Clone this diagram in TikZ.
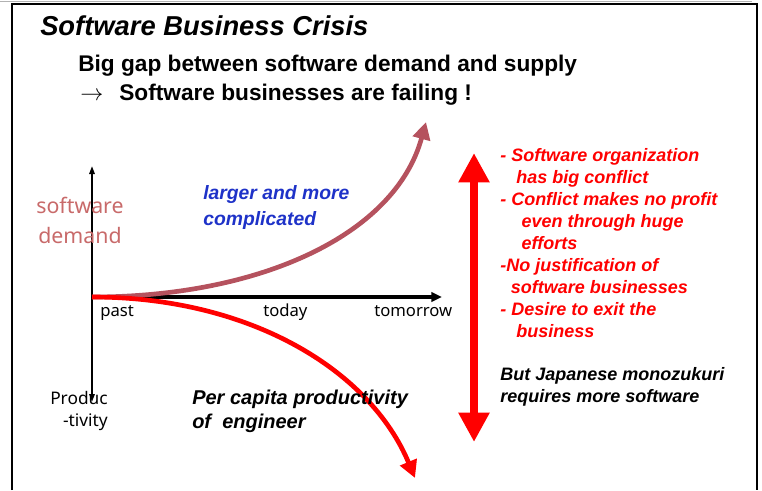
\documentclass[tikz,border=0pt]{standalone}
\usepackage{fontspec}
\setmainfont{Liberation Sans}
\newfontfamily\lblfont{Noto Sans}
\usetikzlibrary{arrows.meta}

\definecolor{demandred}{RGB}{181,82,94}
\definecolor{demandtxt}{RGB}{200,106,106}
\definecolor{cplxblue}{RGB}{30,50,200}

\tikzset{
  axislbl/.style={font=\lblfont\fontsize{12.5}{15}\selectfont, anchor=base west, inner sep=0pt},
  head/.style={font=\bfseries\fontsize{17}{20}\selectfont, anchor=base west, inner sep=0pt},
  note/.style={font=\bfseries\itshape\fontsize{13.5}{16.5}\selectfont, align=left, anchor=north west, inner sep=0pt},
  curve/.style={line width=3.5pt, -{Triangle[length=13pt,width=13pt]}}
}

\begin{document}
\begin{tikzpicture}[x=0.75pt,y=-0.75pt]
\useasboundingbox (0,0) rectangle (762,490);

% frame
\draw[gray!60] (0,1) -- (752,1);
\draw[line width=1.2pt] (12,490) -- (12,4) -- (757,4) -- (757,490);

\node[anchor=base west, inner sep=0pt, font=\bfseries\itshape\fontsize{20.5}{24}\selectfont] (title) at (40,35) {Software Business Crisis};
\node[head] (gap) at (78,71) {Big gap between software demand and supply};
\node[head] (fail) at (80,100) {$\rightarrow$\hspace{12pt}Software businesses are failing !};

% axes
\coordinate (O) at (92,297);
\coordinate (up) at (92,166);
\coordinate (down) at (92,402);
\coordinate (right) at (442,297);
\draw[line width=1.4pt, -{Triangle[length=6pt,width=4pt]}] (O) -- (up);
\draw[line width=1.4pt, -{Triangle[length=6pt,width=4pt]}] (O) -- (down);
\draw[line width=2.4pt, -{Triangle[length=8pt,width=7pt]}] (O) -- (right);

\foreach \t/\x in {past/100, today/263, tomorrow/374}
    \node[axislbl] (\t) at (\x,316) {\t};

\node[font=\lblfont\fontsize{16}{22.5}\selectfont, text=demandtxt, align=center] (sdemand) at (80,220) {software\\demand};
\node[font=\lblfont\fontsize{13}{16.5}\selectfont, align=right, anchor=north east, inner sep=0pt] (prod) at (108,391) {Produc\\-tivity};

% curves
\coordinate (dtip) at (426,122);
\coordinate (ptip) at (415,478);
\draw[curve, demandred] (O) .. controls (260,297) and (395,235) .. (dtip);
\draw[curve, red] (O) .. controls (250,297) and (370,370) .. (ptip);

\node[font=\bfseries\itshape\fontsize{14.5}{20}\selectfont, text=cplxblue, align=left, anchor=north west, inner sep=0pt] (cplx) at (203,185) {larger and more\\complicated};
\node[font=\bfseries\itshape\fontsize{15}{18}\selectfont, align=left, anchor=north west, inner sep=0pt] (percap) at (192,390) {Per capita productivity\\of\ \ engineer};

% gap arrow
\coordinate (gtop) at (474,153);
\coordinate (gbot) at (474,442);
\draw[red, line width=6pt, {Triangle[length=22pt,width=22pt]}-{Triangle[length=22pt,width=22pt]}] (gtop) -- (gbot);

\node[note, text=red] (issues) at (500,148) {- Software organization\\
\hspace*{12pt}has big conflict\\
- Conflict makes no profit\\
\hspace*{16pt}even through huge\\
\hspace*{16pt}efforts\\
-No justification of\\
\hspace*{8pt}software businesses\\
- Desire to exit the\\
\hspace*{12pt}business};
\node[note] (monozukuri) at (500,367) {But Japanese monozukuri\\requires more software};

\end{tikzpicture}
\end{document}
